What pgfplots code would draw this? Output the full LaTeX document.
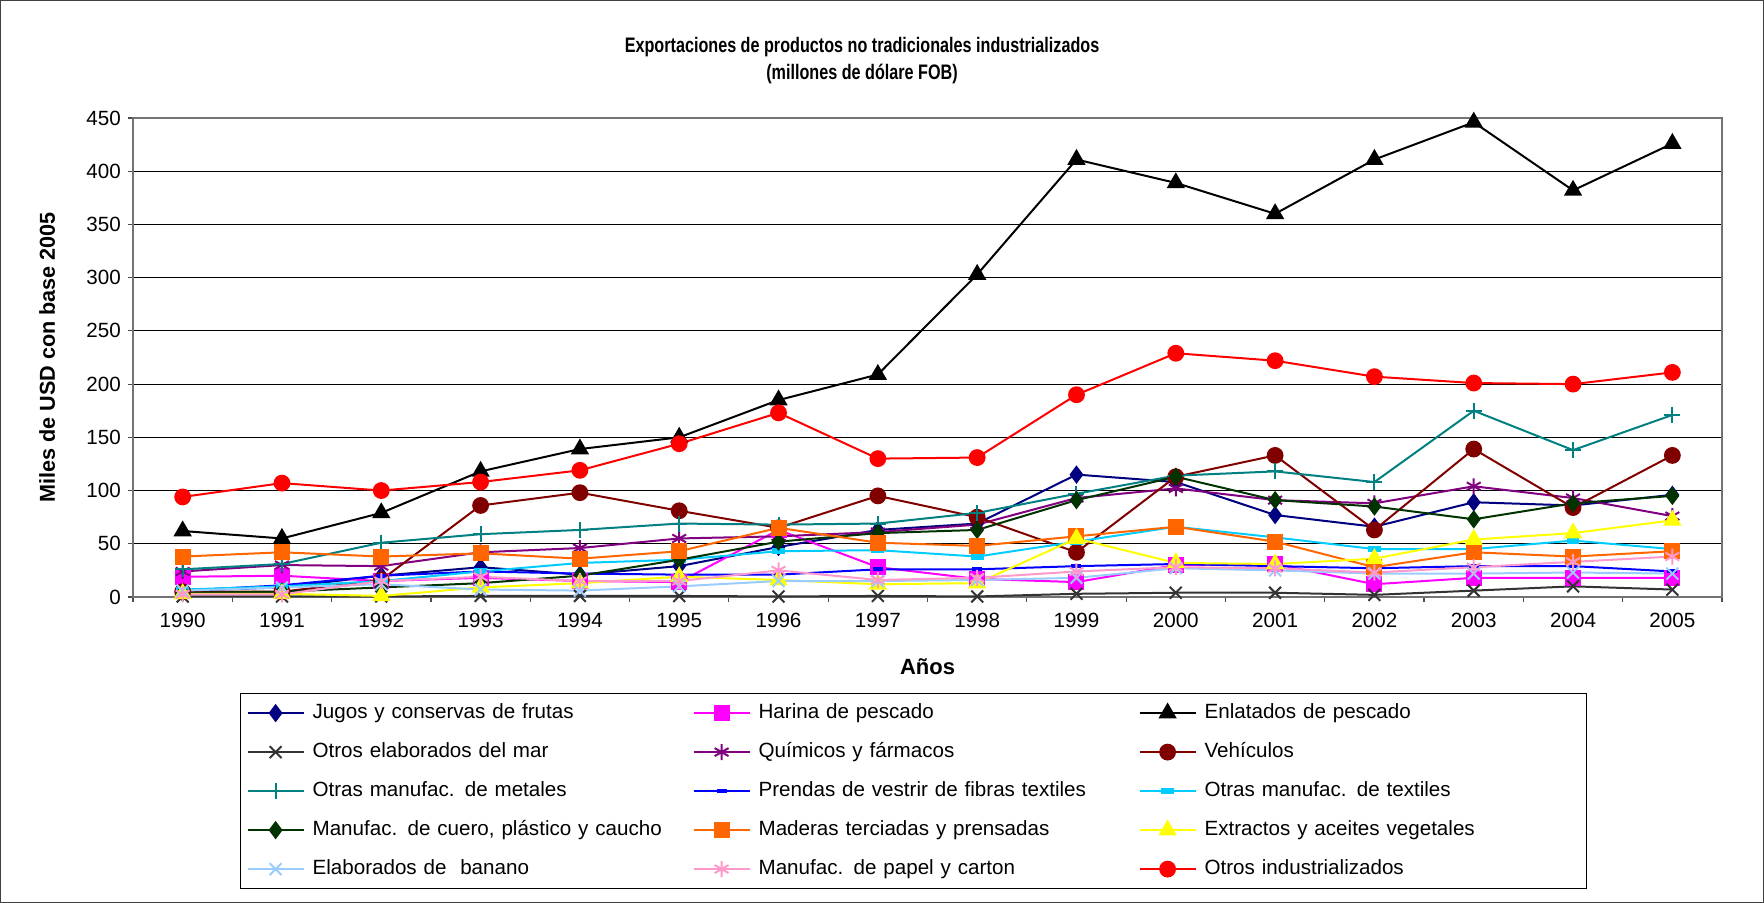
\documentclass[border=0pt]{standalone}
\usepackage{fontspec}
\setmainfont{Liberation Sans}
\usepackage{graphicx}
\usepackage{pgfplots}
\usepackage{pgfplotstable}
\pgfplotsset{compat=1.18}

\definecolor{cNavy}{HTML}{000080}
\definecolor{cMag}{HTML}{FF00FF}
\definecolor{cGray}{HTML}{333333}
\definecolor{cPurple}{HTML}{800080}
\definecolor{cMaroon}{HTML}{800000}
\definecolor{cTeal}{HTML}{008080}
\definecolor{cBlue}{HTML}{0000FF}
\definecolor{cCyan}{HTML}{00CCFF}
\definecolor{cDkGreen}{HTML}{003300}
\definecolor{cOrange}{HTML}{FF6600}
\definecolor{cYellow}{HTML}{FFFF00}
\definecolor{cBanana}{HTML}{99CCFF}
\definecolor{cPink}{HTML}{FF99CC}
\definecolor{cRed}{HTML}{FF0000}

% one row per year (1990 = 0)
\pgfplotstableread{
i  jugos harina enlat mar quim veh metal prend text cuero mader extr banan papel otros
0  6     19     62    0.5 24   5   26    6     7    4     38    3    6     2.5   94
1  9     20     55    0.5 30   5   31    11    10   5     42    3    9     2.5   107
2  20    15     79    0.5 29   16  51    20    15   9     38    1    12    15    100
3  28    18     118   1   42   86  59    24    24   13    41    9    7     19    108
4  21    15     139   1   46   98  63    22    32   20    36    13   6     15    119
5  29    14     150   1   55   81  69    21    35   35    43    19   10    15    144
6  47    63     185   0.5 57   65  68    21    43   52    65    16   15    25    173
7  63    28     209   1   61   95  69    26    44   60    51    12   15    16    130
8  69    17     303   0.5 68   75  79    26    38   63    48    13   16    18    131
9  115   14     411   3   93   42  97    29    52   91    57    55   18    24    190
10 108   30     389   4   102  113 114   31    66   113   66    32   27    28    229
11 77    31     360   4   91   133 118   29    56   91    52    31   25    27    222
12 66    12     411   2   88   63  108   27    45   85    28    36   22    23    207
13 89    18     446   6   104  139 175   29    45   73    42    54   22    28    201
14 86    18     382   10  93   84  138   29    53   88    38    60   23    33    200
15 96    18     426   7   76   133 171   24    45   95    43    72   22    38    211
}\data

\begin{document}
\begin{tikzpicture}
\path[use as bounding box] (-66.5pt,-153pt) rectangle (815.5pt,298.5pt);
\draw[black!75, line width=0.7pt] (-66.1pt,-152.6pt) rectangle (815.1pt,298.1pt);
\begin{axis}[
    at={(0pt,0pt)}, anchor=south west,
    scale only axis,
    width=794.5pt, height=239.5pt,
    xmin=-0.5, xmax=15.5,
    ymin=0, ymax=450,
    clip=false,
    xtick={0,...,15},
    xticklabels={1990,1991,1992,1993,1994,1995,1996,1997,1998,1999,2000,2001,2002,2003,2004,2005},
    minor xtick={-0.5,0.5,...,15.5},
    ytick={0,50,...,450},
    tick pos=left,
    tick align=outside,
    major tick length=2.6pt,
    minor tick length=2.6pt,
    major x tick style={draw=none},
    minor x tick style={black!70, line width=0.6pt},
    major y tick style={black!70, line width=0.6pt},
    ymajorgrids,
    grid style={black, line width=0.5pt},
    axis line style={black!55, line width=0.6pt},
    /pgf/number format/assume math mode=true,
    tick label style={font=\fontsize{10.3}{12}\selectfont},
    xticklabel style={yshift=-2pt},
    title={\scalebox{0.77}[1]{Exportaciones de productos no tradicionales industrializados}\\
        \scalebox{0.77}[1]{(millones de dólare FOB)}},
    title style={at={(axis description cs:0.4588,1.094)}, anchor=center, yshift=0pt,
        align=center, font=\bfseries\fontsize{10.5}{13.5}\selectfont},
    xlabel={Años},
    xlabel style={at={(axis description cs:0.5,-0.1461)}, anchor=center,
        font=\bfseries\fontsize{11}{12}\selectfont},
    ylabel={Miles de USD con base 2005},
    ylabel style={at={(axis description cs:-0.0541,0.5)}, anchor=center,
        font=\bfseries\fontsize{10.8}{12}\selectfont},
    legend columns=3,
    legend cell align=left,
    legend image code/.code={\draw[mark repeat=2,mark phase=2]
        plot coordinates {(0pt,0pt) (14pt,0pt) (28pt,0pt)};},
    legend style={at={(axis description cs:0,0)}, anchor=north west,
        xshift=53.5pt, yshift=-48pt,
        draw=black, line width=0.6pt,
        inner xsep=3pt, inner ysep=0pt,
        column sep=2pt, row sep=0pt,
        font=\fontsize{10.3}{12}\selectfont,
        nodes={text width=186pt, align=left, inner xsep=2pt, inner ysep=0pt,
            text height=7.5pt, text depth=2.5pt, minimum height=19.5pt}},
    ser/.style={color=#1, line width=1pt, mark options={solid, fill=#1, draw=#1}},
]
\addplot[ser=cNavy, mark=diamond*, mark size=3.8pt] table[x=i, y=jugos]{\data};
\addlegendentry{Jugos y conservas de frutas}
\addplot[ser=cMag, mark=square*, mark size=3.5pt] table[x=i, y=harina]{\data};
\addlegendentry{Harina de pescado}
\addplot[ser=black, mark=triangle*, mark size=4.3pt] table[x=i, y=enlat]{\data};
\addlegendentry{Enlatados de pescado}
\addplot[ser=cGray, mark=x, mark size=4.2pt] table[x=i, y=mar]{\data};
\addlegendentry{Otros elaborados del mar}
\addplot[ser=cPurple, mark=asterisk, mark size=4pt] table[x=i, y=quim]{\data};
\addlegendentry{Químicos y fármacos}
\addplot[ser=cMaroon, mark=*, mark size=3.7pt] table[x=i, y=veh]{\data};
\addlegendentry{Vehículos}
\addplot[ser=cTeal, mark=+, mark size=4pt] table[x=i, y=metal]{\data};
\addlegendentry{Otras manufac. de metales}
\addplot[ser=cBlue, mark=-, mark size=2.5pt, mark options={line width=2pt}] table[x=i, y=prend]{\data};
\addlegendentry{Prendas de vestrir de fibras textiles}
\addplot[ser=cCyan, mark=-, mark size=3.2pt, mark options={line width=3pt}] table[x=i, y=text]{\data};
\addlegendentry{Otras manufac. de textiles}
\addplot[ser=cDkGreen, mark=diamond*, mark size=3.8pt] table[x=i, y=cuero]{\data};
\addlegendentry{Manufac. de cuero, plástico y caucho}
\addplot[ser=cOrange, mark=square*, mark size=3.5pt] table[x=i, y=mader]{\data};
\addlegendentry{Maderas terciadas y prensadas}
\addplot[ser=cYellow, mark=triangle*, mark size=4.3pt] table[x=i, y=extr]{\data};
\addlegendentry{Extractos y aceites vegetales}
\addplot[ser=cBanana, mark=x, mark size=4.2pt] table[x=i, y=banan]{\data};
\addlegendentry{Elaborados de\ \ banano}
\addplot[ser=cPink, mark=asterisk, mark size=4pt] table[x=i, y=papel]{\data};
\addlegendentry{Manufac. de papel y carton}
\addplot[ser=cRed, mark=*, mark size=3.7pt] table[x=i, y=otros]{\data};
\addlegendentry{Otros industrializados}
\end{axis}
\end{tikzpicture}
\end{document}
